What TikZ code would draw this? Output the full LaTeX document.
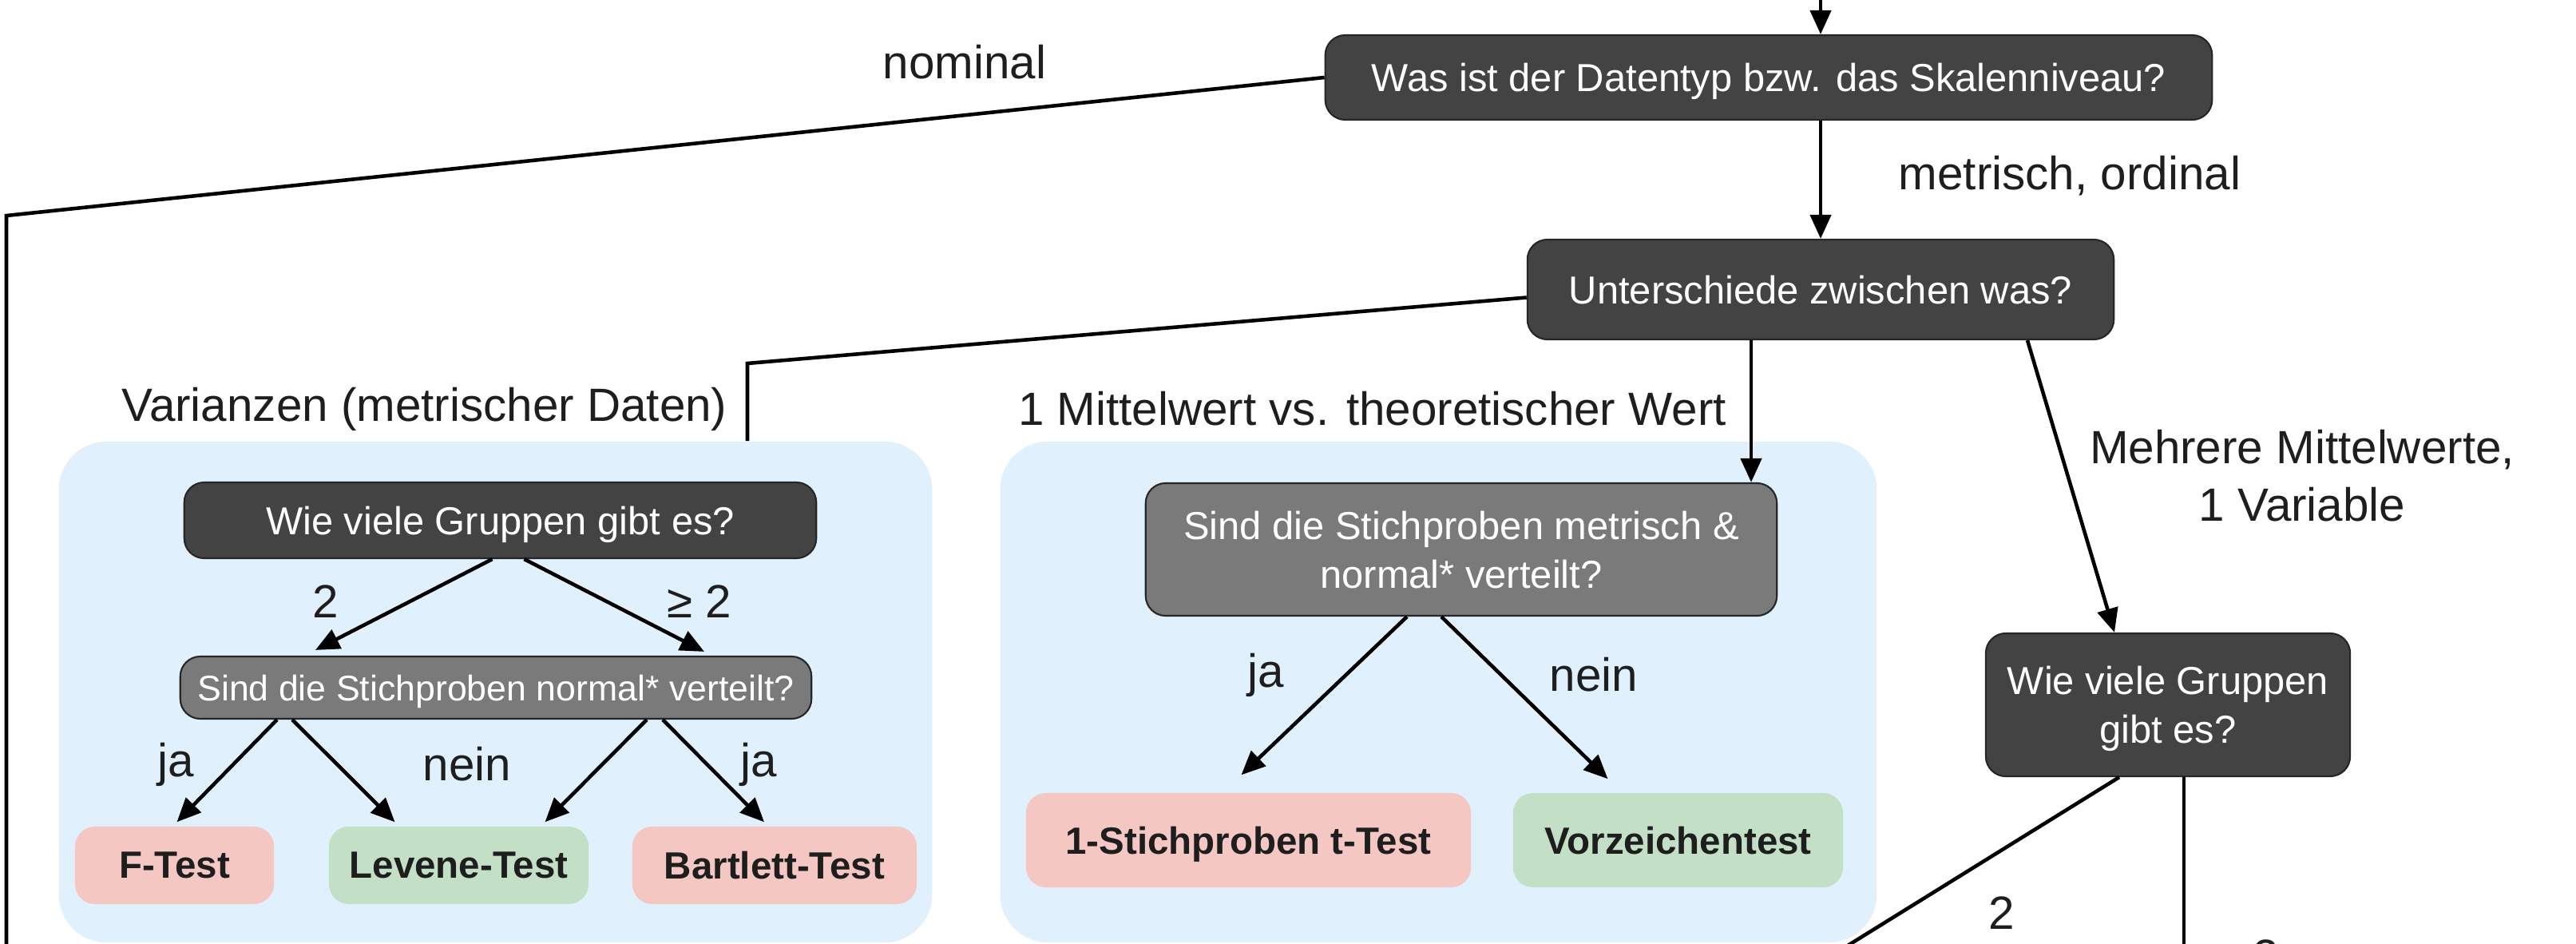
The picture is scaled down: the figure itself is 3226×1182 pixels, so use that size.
\documentclass[tikz,border=0pt]{standalone}
\usepackage{fontspec}
\setmainfont{Liberation Sans}
\usetikzlibrary{arrows.meta,calc}
\definecolor{dunkel}{HTML}{434343}
\definecolor{mittel}{HTML}{7A7A7A}
\definecolor{rand}{HTML}{262626}
\definecolor{rosa}{HTML}{F4C7C3}
\definecolor{gruen}{HTML}{C3E0C6}
\definecolor{hellblau}{HTML}{E0F1FD}
\definecolor{schrift}{HTML}{1E1E1E}

\begin{document}
\begin{tikzpicture}[x=0.01cm,y=-0.01cm,
	groesse/.style 2 args={minimum width=#1cm,minimum height=#2cm},
	frage/.style={draw=rand,line width=0.6pt,fill=dunkel,text=white,rounded corners=0.25cm,inner sep=0pt,text depth=0pt,align=center,font=\fontsize{13.9}{17.4}\selectfont},
	frage2/.style={frage,fill=mittel},
	test/.style={rounded corners=0.25cm,inner sep=0pt,text depth=0pt,text=schrift,font=\fontsize{13.5}{16}\selectfont\bfseries},
	panel/.style={fill=hellblau,rounded corners=0.6cm,inner sep=0pt},
	lbl/.style={text=schrift,inner sep=0pt,align=center,font=\fontsize{16.6}{20.5}\selectfont},
	linie/.style={line width=1.3pt},
	pfeil/.style={linie,-{Triangle[length=0.3cm,width=0.26cm]}}]
					\useasboundingbox (0,0) rectangle (3226,1182);
					% Hintergrundflaechen
					\node[panel,groesse={10.93}{6.27}] (pvar) at (620.5,866.5) {};
					\node[panel,groesse={10.97}{6.27}] (pmw) at (1801.5,866.5) {};
					% Fragen
					\node[frage,groesse={11.1}{1.06}] (typ) at (2215,97) {Was ist der Datentyp bzw. das Skalenniveau?};
					\node[frage,groesse={7.34}{1.25}] (uz) at (2280,362.5) {Unterschiede zwischen was?};
					\node[frage,groesse={7.91}{0.95}] (wg1) at (626.5,651.5) {Wie viele Gruppen gibt es?};
					\node[frage2,groesse={7.9}{0.78},font=\fontsize{12.7}{15}\selectfont] (nv) at (621,861) {Sind die Stichproben normal* verteilt?};
					\node[frage2,groesse={7.9}{1.66}] (mn) at (1830,688) {Sind die Stichproben metrisch \&\\normal* verteilt?};
					\node[frage,groesse={4.56}{1.79}] (wg2) at (2715,882.5) {Wie viele Gruppen\\gibt es?};
					% Tests
					\node[test,fill=rosa,groesse={2.49}{0.97}] (ft) at (218.5,1083.5) {F-Test};
					\node[test,fill=gruen,groesse={3.25}{0.97}] (lt) at (574.5,1083.5) {Levene-Test};
					\node[test,fill=rosa,groesse={3.56}{0.97}] (bt) at (970,1083.5) {Bartlett-Test};
					\node[test,fill=rosa,groesse={5.57}{1.18}] (tt) at (1563.5,1052) {1-Stichproben t-Test};
					\node[test,fill=gruen,groesse={4.13}{1.18}] (vz) at (2101.5,1052) {Vorzeichentest};
					% Verbindungen oben
					\coordinate (oben) at (2280,-30);
					\coordinate (knick) at (8,270);
					\coordinate (nomunten) at (8,1250);
					\draw[pfeil] (oben) -- (oben |- typ.north);
					\draw[linie] (typ.west) -- (knick) -- (nomunten);
					\node[lbl] (lnom) at (1208,78) {nominal};
					\draw[pfeil] (typ.south -| uz.north) -- (uz.north);
					\node[lbl] (lmo) at (2592,220) {metrisch, ordinal};
					\coordinate (knick2) at (936,455);
					\draw[linie] ($(uz.west)+(0,10)$) -- (knick2) -- (knick2 |- pvar.north);
					\coordinate (uzl) at ($(uz.south)+(-87,0)$);
					\draw[pfeil] (uzl) -- (uzl |- mn.north);
					\draw[pfeil] ($(uz.south)+(259,0)$) -- ($(wg2.north)+(-67,0)$);
					\node[lbl] (lvar) at (531.5,512) {Varianzen (metrischer Daten)};
					\node[lbl] (lmw) at (1718.5,512) {1 Mittelwert vs. theoretischer Wert};
					\node[lbl] (lmehr) at (2883,596) {Mehrere Mittelwerte,\\1 Variable};
					% Varianzen
					\draw[pfeil] ($(wg1.south)+(-10,0)$) -- ($(nv.north)+(-226,-7)$);
					\draw[pfeil] ($(wg1.south)+(30,0)$) -- ($(nv.north)+(261,-5)$);
					\node[lbl] (l2a) at (408,753) {2};
					\node[lbl] (l2b) at (876,753) {≥ 2};
					\draw[pfeil] ($(nv.south)+(-274,0)$) -- ($(ft.north)+(3,-5)$);
					\draw[pfeil] ($(nv.south)+(-255,0)$) -- ($(lt.north)+(-80,-5)$);
					\draw[pfeil] ($(nv.south)+(189,0)$) -- ($(lt.north)+(108,-5)$);
					\draw[pfeil] ($(nv.south)+(209,0)$) -- ($(bt.north)+(-13,-5)$);
					\node[lbl] (lja1) at (220,957) {ja};
					\node[lbl] (lnein1) at (585,957) {nein};
					\node[lbl] (lja2) at (950,957) {ja};
					% 1 Mittelwert
					\draw[pfeil] ($(mn.south)+(-68,0)$) -- ($(tt.north)+(-9,-22)$);
					\draw[pfeil] ($(mn.south)+(-25,0)$) -- ($(vz.north)+(-88,-17)$);
					\node[lbl] (lja3) at (1585,845) {ja};
					\node[lbl] (lnein2) at (1996,845) {nein};
					% mehrere Mittelwerte
					\coordinate (runten1) at (2301,1192);
					\coordinate (runten2) at (2735,1220);
					\draw[linie] ($(wg2.south)+(-61,0)$) -- (runten1);
					\draw[linie] (wg2.south -| runten2) -- (runten2);
					\node[lbl] (l2c) at (2507,1143) {2};
					\node[lbl] (l2d) at (2814,1197) {≥ 2};
				\end{tikzpicture}
\end{document}
